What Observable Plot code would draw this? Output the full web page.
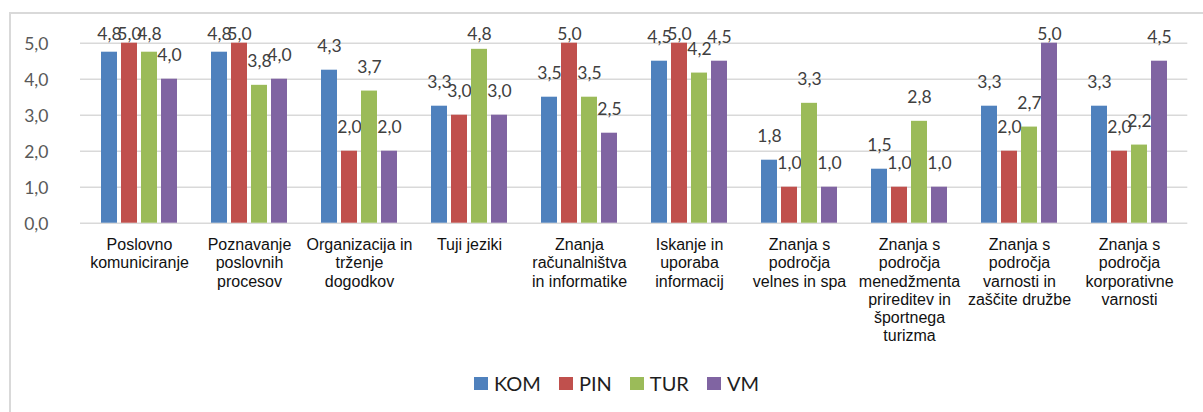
<!DOCTYPE html>
<html>
<head>
<meta charset="utf-8">
<script src="https://cdn.jsdelivr.net/npm/d3@7"></script>
<script src="https://cdn.jsdelivr.net/npm/@observablehq/plot@0.6"></script>
<style>
  body { margin: 0; background: #fff; }
  #wrap { position: relative; width: 1203px; height: 412px; overflow: hidden; background: #fff; }
  #frame { position: absolute; left: 9px; top: 12px; width: 1240px; height: 460px; border: 2px solid #d9d9d9; box-sizing: border-box; z-index: 2; pointer-events: none; }
  #chart svg { display: block; }
  #legend { display: flex; justify-content: center; align-items: center; height: 46px; padding-left: 30px; width: 1203px; box-sizing: border-box; font-family: Lato, "Open Sans", sans-serif; font-size: 20px; color: #1e1e1e; }
  .item { display: flex; align-items: center; margin: 0 9px; }
  .sw { width: 14px; height: 13px; margin-right: 6px; }
</style>
</head>
<body>
<div id="wrap">
  <div id="frame"></div>
  <div id="chart"></div>
  <div id="legend"></div>
</div>
<script>
const categories = [
  "Poslovno\nkomuniciranje",
  "Poznavanje\nposlovnih\nprocesov",
  "Organizacija in\ntrženje\ndogodkov",
  "Tuji jeziki",
  "Znanja\nračunalništva\nin informatike",
  "Iskanje in\nuporaba\ninformacij",
  "Znanja s\npodročja\nvelnes in spa",
  "Znanja s\npodročja\nmenedžmenta\nprireditev in\nšportnega\nturizma",
  "Znanja s\npodročja\nvarnosti in\nzaščite družbe",
  "Znanja s\npodročja\nkorporativne\nvarnosti"
];
const series = ["KOM", "PIN", "TUR", "VM"];
const colors = ["#4F81BD", "#C0504D", "#9BBB59", "#8064A2"];
const KOM = [4.75, 4.75, 4.25, 3.25, 3.5, 4.5, 1.75, 1.5, 3.25, 3.25];
const PIN = [5.0, 5.0, 2.0, 3.0, 5.0, 5.0, 1.0, 1.0, 2.0, 2.0];
const TUR = [4.75, 3.83, 3.67, 4.83, 3.5, 4.17, 3.33, 2.83, 2.67, 2.17];
const VM  = [4.0, 4.0, 2.0, 3.0, 2.5, 4.5, 1.0, 1.0, 5.0, 4.5];
const yTicks = [0, 1, 2, 3, 4, 5];

const valuesBySeries = [KOM, PIN, TUR, VM];
const table = series.flatMap((s, i) =>
  valuesBySeries[i].map((v, j) => ({category: categories[j], series: s, value: v}))
);
const fmt = v => v.toFixed(1).replace(".", ",");

const W = 1203, H = 360;
const mLeft = 80, mRight = 15.7, mTop = 42.7, mBottom = H - 222.7;
const step = (W - mLeft - mRight) / categories.length;
const barW = 16, barStep = 20;
const pIn = 1 - barW / step;

const marks = [
  Plot.ruleY(yTicks, {y: d => d, stroke: "#d9d9d9", strokeWidth: 1.4}),
  Plot.axisY({ticks: yTicks, tickFormat: fmt, tickSize: 0, tickPadding: 32, fontSize: 17.5, fontFamily: "Lato", color: "#595959", dy: 1.5, label: null}),
  Plot.axisX({tickSize: 0, tickPadding: 14, fontSize: 16, fontFamily: "Liberation Sans, Arial, sans-serif", lineHeight: 1.14, color: "#111", label: null, lineAnchor: "top"})
];
series.forEach((s, i) => {
  const rows = table.filter(d => d.series === s);
  const dx = (i - 1.5) * barStep;
  marks.push(Plot.barY(rows, {x: "category", y: "value", fill: "series", dx}));
  marks.push(Plot.text(rows, {
    x: "category", y: d => Math.min(d.value + 0.5, 5.1), text: d => fmt(d.value), dx,
    lineAnchor: "bottom", fontSize: 17.5, fontFamily: "Lato", fill: "#404040"
  }));
});

const chart = Plot.plot({
  width: W, height: H,
  marginLeft: mLeft, marginRight: mRight, marginTop: mTop, marginBottom: mBottom,
  style: {background: "transparent", overflow: "visible"},
  x: {domain: categories, paddingInner: pIn, paddingOuter: pIn / 2, axis: null},
  y: {domain: [0, 5], axis: null},
  color: {domain: series, range: colors},
  marks
});
document.getElementById("chart").appendChild(chart);

const legend = document.getElementById("legend");
series.forEach((s, i) => {
  const it = document.createElement("div");
  it.className = "item";
  it.innerHTML = `<span class="sw" style="background:${colors[i]}"></span><span>${s}</span>`;
  legend.appendChild(it);
});
</script>
</body>
</html>
